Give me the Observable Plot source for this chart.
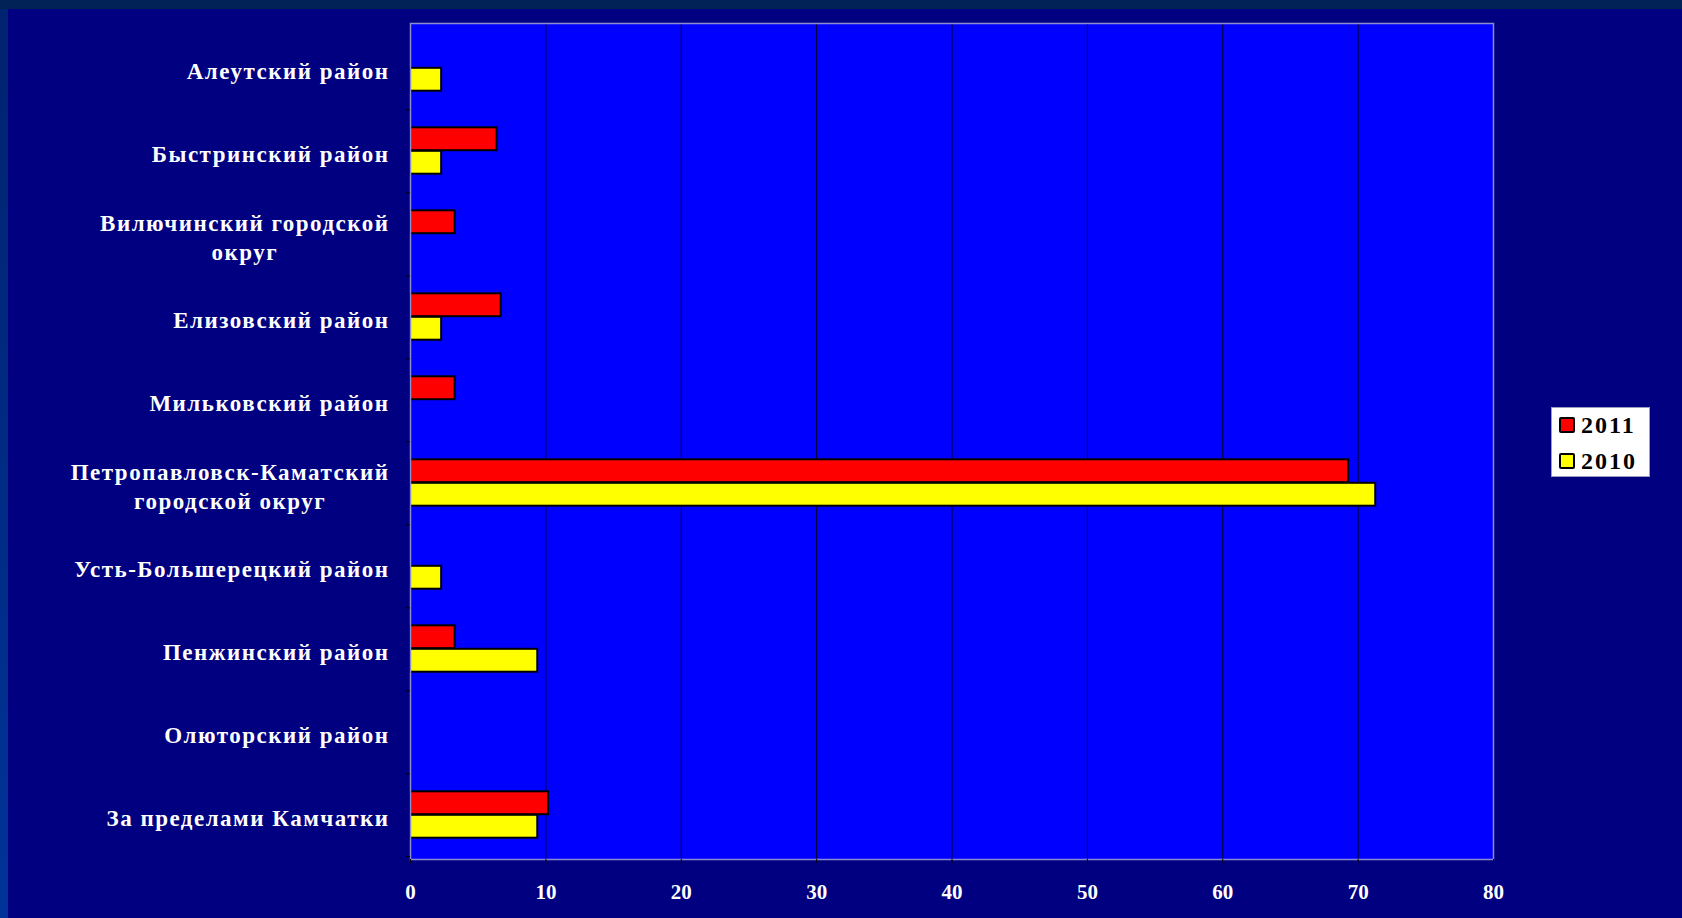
<!DOCTYPE html>
<html>
<head>
<meta charset="utf-8">
<script src="https://cdn.jsdelivr.net/npm/d3@7"></script>
<script src="https://cdn.jsdelivr.net/npm/@observablehq/plot@0.6"></script>
<style>
html, body { margin: 0; padding: 0; background: #012257; overflow: hidden; }
#stage { position: relative; width: 1682px; height: 918px; }
#topband { position: absolute; left: 0; top: 0; width: 1682px; height: 9px; background: #012257; }
#leftband { position: absolute; left: 0; top: 9px; width: 8px; height: 909px; background: linear-gradient(#00236f, #003399); }
#inner { position: absolute; left: 8px; top: 9px; width: 1674px; height: 909px; background: #000080; }
#chart { position: absolute; left: 0; top: 0; }
#chart svg { background: transparent; overflow: visible; }
g[aria-label="y-axis tick label"] text { letter-spacing: 1.5px; }
#legend { position: absolute; left: 1551px; top: 407px; width: 99px; height: 70px; box-sizing: border-box;
  background: #ffffff; border: 1px solid #9a9ac0; font-family: "Liberation Serif", serif; font-weight: bold;
  font-size: 24px; color: #000; letter-spacing: 2px; }
.item { position: absolute; left: 7px; height: 24px; display: flex; align-items: center; }
.sw { width: 16px; height: 16px; box-sizing: border-box; border: 2px solid #000; border-radius: 2px; margin-right: 6px; }
</style>
</head>
<body>
<div id="stage">
  <div id="topband"></div>
  <div id="leftband"></div>
  <div id="inner"></div>
  <div id="chart"></div>
  <div id="legend"></div>
</div>
<script>
const categories = [
  "Алеутский район",
  "Быстринский район",
  "Вилючинский городской\nокруг",
  "Елизовский район",
  "Мильковский район",
  "Петропавловск-Каматский\nгородской округ",
  "Усть-Большерецкий район",
  "Пенжинский район",
  "Олюторский район",
  "За пределами Камчатки"
];
const v2011 = [0, 6.4, 3.3, 6.7, 3.3, 69.3, 0, 3.3, 0, 10.2];
const v2010 = [2.3, 2.3, 0, 2.3, 0, 71.3, 2.3, 9.4, 0, 9.4];
const years = ["2011", "2010"];
const yearColors = ["#ff0000", "#ffff00"];
const xTicks = [0, 10, 20, 30, 40, 50, 60, 70, 80];

const rows = categories.flatMap((c, i) => [
  {cat: c, year: "2011", value: v2011[i]},
  {cat: c, year: "2010", value: v2010[i]}
]);

const W = 1682, H = 918, mL = 410, mR = 189, mT = 23, mB = 59;
const bw = (H - mT - mB) / categories.length;
const barH = 23.5;
const font = "Liberation Serif";

const svg = Plot.plot({
  width: W, height: H,
  marginLeft: mL, marginRight: mR, marginTop: mT, marginBottom: mB,
  style: {background: "transparent", color: "white", overflow: "visible"},
  x: {domain: [xTicks[0], xTicks[xTicks.length - 1]], label: null},
  y: {domain: categories, padding: 0, label: null},
  color: {domain: years, range: yearColors},
  marks: [
    Plot.frame({fill: "#0000ff", stroke: null}),
    Plot.ruleX(xTicks.slice(1, -1), {stroke: "#000000", strokeWidth: 1, strokeOpacity: 0.85}),
    Plot.barX(rows.filter(d => d.year === "2011" && d.value > 0), {
      x: "value", y: "cat", fill: "year", stroke: "#000", strokeWidth: 2,
      insetTop: bw / 2 - barH, insetBottom: bw / 2
    }),
    Plot.barX(rows.filter(d => d.year === "2010" && d.value > 0), {
      x: "value", y: "cat", fill: "year", stroke: "#000", strokeWidth: 2,
      insetTop: bw / 2, insetBottom: bw / 2 - barH
    }),
    Plot.frame({stroke: "#8c8cd0", strokeWidth: 1.5}),
    Plot.axisX({
      ticks: xTicks, tickSize: 4, tickPadding: 21, stroke: "#000", fill: "white",
      fontSize: 21, fontWeight: "bold", fontFamily: font, tickFormat: d => String(d)
    }),
    Plot.axisY({tickSize: 4, dy: bw / 2, stroke: "#000", tickFormat: () => ""}),
    Plot.axisY({
      tickSize: 0, tickPadding: 21, fill: "white", fontSize: 23, fontWeight: "bold",
      fontFamily: font, lineHeight: 1.25, dy: 2
    })
  ]
});
document.getElementById("chart").append(svg);

// center multi-line labels under their widest line, keeping right edge
svg.querySelectorAll('g[aria-label="y-axis tick label"] text').forEach(t => {
  const w = t.getBBox().width;
  if (!w) return;
  t.setAttribute("text-anchor", "middle");
  t.setAttribute("transform", (t.getAttribute("transform") || "") + ` translate(${-w / 2},0)`);
});

const legend = document.getElementById("legend");
years.forEach((y, i) => {
  const it = document.createElement("div");
  it.className = "item";
  it.style.top = (5 + i * 36) + "px";
  const sw = document.createElement("div");
  sw.className = "sw";
  sw.style.background = yearColors[i];
  const tx = document.createElement("span");
  tx.textContent = y;
  it.append(sw, tx);
  legend.append(it);
});
</script>
</body>
</html>
